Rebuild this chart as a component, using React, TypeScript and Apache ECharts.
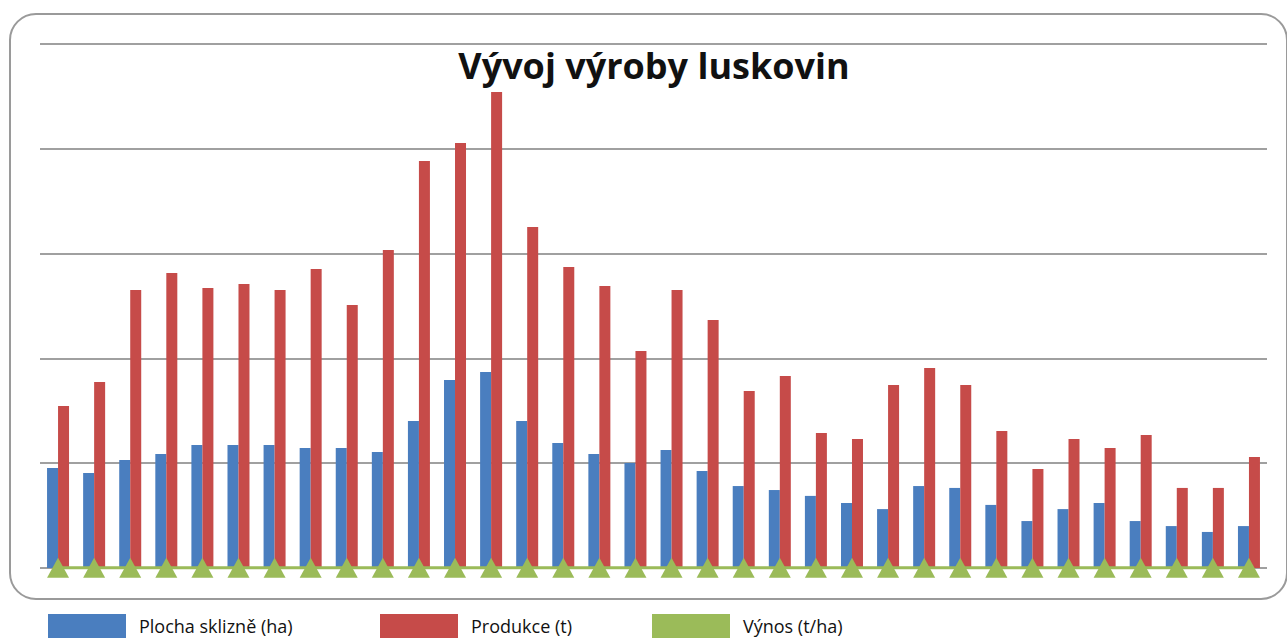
import React, { useEffect, useRef } from "react";
import * as echarts from "echarts";

const categories: string[] = [
  "1", "2", "3", "4", "5", "6", "7", "8", "9", "10", "11", "12", "13", "14", "15", "16", "17",
  "18", "19", "20", "21", "22", "23", "24", "25", "26", "27", "28", "29", "30", "31", "32", "33", "34",
];

const plochaSklizne: number[] = [
  47.7, 45.3, 51.5, 54.4, 58.7, 58.7, 58.7, 57.3, 57.3, 55.3, 70.1, 89.7, 93.5, 70.1, 59.6, 54.4, 50.1,
  56.3, 46.3, 39.1, 37.2, 34.4, 31.0, 28.1, 39.1, 38.2, 30.1, 22.4, 28.1, 31.0, 22.4, 20.0, 17.2, 20.0,
];

const produkce: number[] = [
  77.3, 88.7, 132.6, 140.7, 133.6, 135.5, 132.6, 142.7, 125.5, 151.7, 194.2, 202.8, 227.1, 162.7, 143.6, 134.5, 103.5,
  132.6, 118.3, 84.4, 91.6, 64.4, 61.5, 87.3, 95.4, 87.3, 65.4, 47.2, 61.5, 57.3, 63.5, 38.2, 38.2, 53.0,
];

const vynos: number[] = [
  0.1, 0.1, 0.1, 0.1, 0.1, 0.1, 0.1, 0.1, 0.1, 0.1, 0.1, 0.1, 0.1, 0.1, 0.1, 0.1, 0.1,
  0.1, 0.1, 0.1, 0.1, 0.1, 0.1, 0.1, 0.1, 0.1, 0.1, 0.1, 0.1, 0.1, 0.1, 0.1, 0.1, 0.1,
];

const seriesNames: string[] = ["Plocha sklizně (ha)", "Produkce (t)", "Výnos (t/ha)"];
const legendLefts: number[] = [48, 380, 652];
const titleText = "Vývoj výroby luskovin";

export default function App() {
  const ref = useRef<HTMLDivElement>(null);

  useEffect(() => {
    if (!ref.current) return;
    const chart = echarts.init(ref.current, null, { renderer: "svg" });
    chart.setOption({
      animation: false,
      backgroundColor: "#ffffff",
      graphic: [
        {
          type: "rect",
          shape: { x: 10, y: 14, width: 1277, height: 585, r: 26 },
          style: { fill: "none", stroke: "#9a9a9a", lineWidth: 2 },
          z: 0,
        },
        {
          type: "text",
          x: 654,
          y: 65,
          style: {
            text: titleText,
            textAlign: "center",
            textVerticalAlign: "middle",
            fontFamily: "Open Sans",
            fontWeight: "bold",
            fontSize: 36,
            fill: "#111111",
          },
          z: 10,
        },
      ],
      legend: seriesNames.map((name, i) => ({
        left: legendLefts[i],
        top: 614,
        padding: 0,
        icon: "rect",
        itemWidth: 78,
        itemHeight: 24,
        data: [name],
        textStyle: {
          fontFamily: "Open Sans",
          fontSize: 18,
          lineHeight: 22,
          color: "#111111",
          padding: [0, 0, 0, 8],
        },
      })),
      grid: { left: 40, right: 20, top: 44, bottom: 72 },
      xAxis: {
        type: "category",
        data: categories,
        axisLine: { show: false },
        axisTick: { show: false },
        axisLabel: { show: false },
      },
      yAxis: {
        type: "value",
        min: 0,
        max: 250,
        interval: 50,
        axisLine: { show: false },
        axisTick: { show: false },
        axisLabel: { show: false },
        splitLine: { lineStyle: { color: "#a0a0a0", width: 2 } },
      },
      series: [
        {
          name: seriesNames[0],
          type: "bar",
          data: plochaSklizne,
          barWidth: 11,
          barGap: "0%",
          itemStyle: { color: "#4a7ebf" },
        },
        {
          name: seriesNames[1],
          type: "bar",
          data: produkce,
          barWidth: 11,
          barGap: "0%",
          itemStyle: { color: "#c64b49" },
        },
        {
          name: seriesNames[2],
          type: "line",
          data: vynos,
          symbol: "triangle",
          symbolSize: [22, 20],
          clip: false,
          lineStyle: { color: "#9bbb59", width: 3 },
          itemStyle: { color: "#9bbb59" },
        },
      ],
    });
    return () => chart.dispose();
  }, []);

  return (
    <div
      ref={ref}
      style={{ position: "fixed", left: 0, top: 0, width: 1287, height: 640 }}
    />
  );
}
